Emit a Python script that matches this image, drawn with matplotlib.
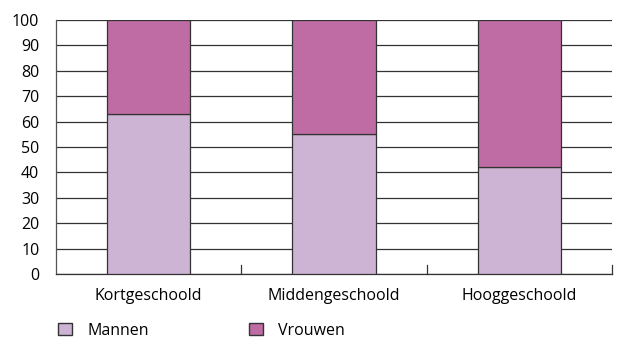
import numpy as np
import matplotlib.pyplot as plt
from matplotlib.patches import Patch

plt.rcParams['font.family'] = ['Open Sans', 'DejaVu Sans']

categories = ["Kortgeschoold", "Middengeschoold", "Hooggeschoold"]
mannen = [63, 55, 42]
vrouwen = [37, 45, 58]

C_MANNEN = "#cdb3d4"
C_VROUWEN = "#be6ca3"

fig = plt.figure(figsize=(6.19, 3.4), dpi=100)
ax = fig.add_axes([0.0905, 0.194, 0.8982, 0.747])

x = np.arange(len(categories))
w = 0.45
ax.bar(x, mannen, width=w, color=C_MANNEN, edgecolor="#333333", linewidth=0.9, zorder=3)
ax.bar(x, vrouwen, width=w, bottom=mannen, color=C_VROUWEN, edgecolor="#333333",
       linewidth=0.9, zorder=3)

ax.set_xlim(-0.5, len(categories) - 0.5)
ax.set_ylim(0, 100)
ax.set_yticks(np.arange(0, 101, 10))
ax.yaxis.grid(True, color="#333333", linewidth=0.9, zorder=1)
ax.tick_params(axis="y", length=0, labelsize=11.5, pad=12)

# category labels, ticks at boundaries
ax.set_xticks(x)
ax.set_xticklabels(categories)
ax.tick_params(axis="x", length=0, labelsize=11.5, pad=10)
for b in np.arange(0.5, len(categories) + 0.5, 1.0):
    ax.plot([b, b], [0, 3.5], color="#333333", linewidth=0.9, zorder=2, clip_on=False)

for s in ["top", "right"]:
    ax.spines[s].set_visible(False)
ax.spines["left"].set_color("#555555")
ax.spines["bottom"].set_color("#333333")
ax.spines["left"].set_linewidth(0.9)
ax.spines["bottom"].set_linewidth(0.9)

handles = [Patch(facecolor=C_MANNEN, edgecolor="#333333", label="Mannen"),
           Patch(facecolor=C_VROUWEN, edgecolor="#333333", label="Vrouwen")]
fig.legend(handles=handles, loc="lower left", bbox_to_anchor=(0.071, -0.038), ncol=2,
           frameon=False, fontsize=11.5, handlelength=0.85, handleheight=0.85,
           columnspacing=6.3, handletextpad=0.95)

fig.savefig("out.png", dpi=100)
